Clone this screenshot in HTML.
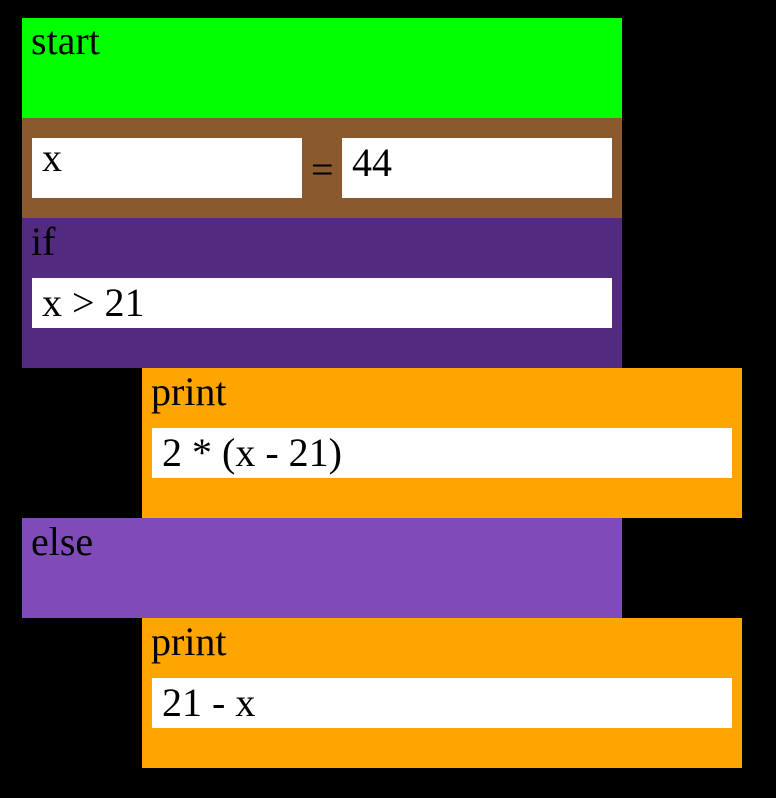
<!DOCTYPE html>
<html><head><style>
body{margin:0;width:776px;height:798px;background:#000;position:relative;overflow:hidden;font-family:"Liberation Serif",serif;font-size:40px;color:#000}
div{position:absolute;box-sizing:border-box}
.t{line-height:1}
.in{background:#fff;padding-left:10px;line-height:50px}
</style></head><body>
<div style="left:22px;top:18px;width:600px;height:100px;background:#00ff00"><div class="t" style="left:9px;top:3px">start</div></div>
<div style="left:22px;top:118px;width:600px;height:100px;background:#8a5a2e">
  <div class="in" style="left:10px;top:20px;width:270px;height:60px;line-height:40px">x</div>
  <div class="t" style="left:289px;top:32px">=</div>
  <div class="in" style="left:320px;top:20px;width:270px;height:60px;line-height:50px">44</div>
</div>
<div style="left:22px;top:218px;width:600px;height:150px;background:#522a80">
  <div class="t" style="left:9px;top:4px">if</div>
  <div class="in" style="left:10px;top:60px;width:580px;height:50px">x &gt; 21</div>
</div>
<div style="left:142px;top:368px;width:600px;height:150px;background:#ffa500">
  <div class="t" style="left:9px;top:4px">print</div>
  <div class="in" style="left:10px;top:60px;width:580px;height:50px">2 * (x - 21)</div>
</div>
<div style="left:22px;top:518px;width:600px;height:100px;background:#7e4bb9"><div class="t" style="left:9px;top:4px">else</div></div>
<div style="left:142px;top:618px;width:600px;height:150px;background:#ffa500">
  <div class="t" style="left:9px;top:4px">print</div>
  <div class="in" style="left:10px;top:60px;width:580px;height:50px">21 - x</div>
</div>
</body></html>
